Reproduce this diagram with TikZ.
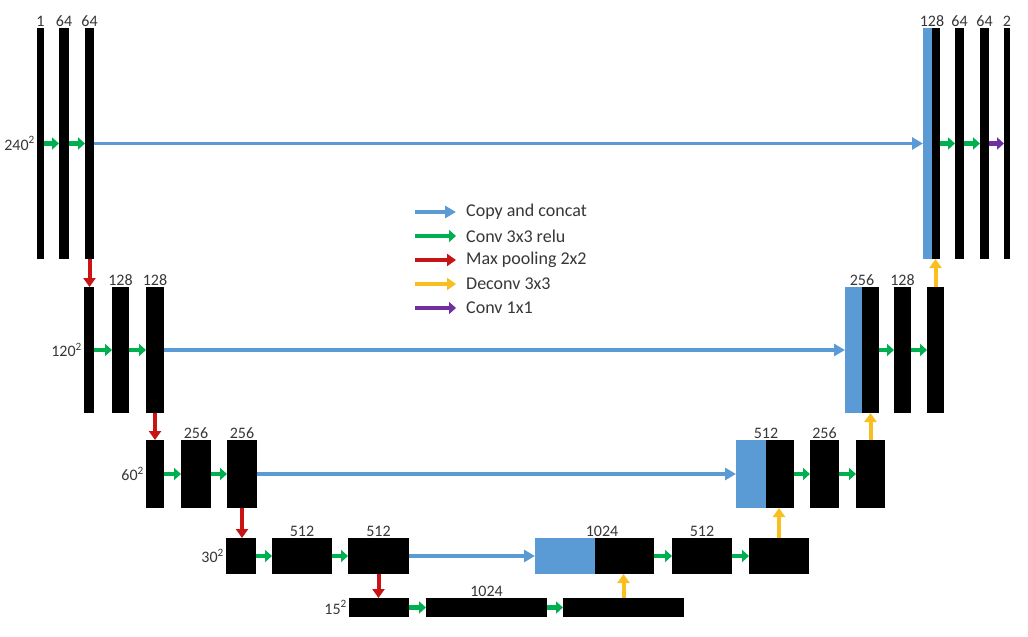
\documentclass[tikz,border=0pt]{standalone}
\usepackage{fontspec}
\setmainfont{Carlito}
\usetikzlibrary{arrows.meta}
\definecolor{cblue}{RGB}{91,155,213}
\definecolor{cgreen}{RGB}{0,176,80}
\definecolor{cred}{RGB}{200,20,20}
\definecolor{cyel}{RGB}{250,190,30}
\definecolor{cpurp}{RGB}{112,48,160}
\definecolor{ctext}{RGB}{55,55,55}
\begin{document}
\begin{tikzpicture}[x=1pt,y=-1pt,
  bar/.style={fill=black,draw=none,inner sep=0,outer sep=0,anchor=north west},
  cat/.style={fill=cblue,draw=none,inner sep=0,outer sep=0,anchor=north west},
  lbl/.style={font=\fontsize{16}{16}\selectfont,text=ctext,anchor=south,inner sep=1.5pt},
  dim/.style={font=\fontsize{16}{16}\selectfont,text=ctext,anchor=east,inner sep=2pt},
  leg/.style={font=\fontsize{18}{18}\selectfont,text=ctext,anchor=west,inner sep=0pt},
  conv/.style={draw=cgreen,line width=4.5pt,-{Triangle[length=7pt,width=12pt]}},
  copyarr/.style={draw=cblue,line width=3.6pt,-{Triangle[length=11pt,width=12pt]}},
  pool/.style={draw=cred,line width=4pt,-{Triangle[length=9pt,width=12pt]}},
  up/.style={draw=cyel,line width=4pt,-{Triangle[length=9pt,width=12pt]}},
  fin/.style={draw=cpurp,line width=4.5pt,-{Triangle[length=7pt,width=12pt]}}]
\useasboundingbox[fill=white] (0,0) rectangle (1028,637);
% Row 1
\node[bar,minimum width=7,minimum height=231] (l1a) at (37,28) {};
\node[bar,minimum width=10,minimum height=231] (l1b) at (59,28) {};
\node[bar,minimum width=9,minimum height=231] (l1c) at (85,28) {};
\node[cat,minimum width=9,minimum height=231] (r1cat) at (923,28) {};
\node[bar,minimum width=8,minimum height=231] (r1a) at (932,28) {};
\node[bar,minimum width=9,minimum height=231] (r1b) at (955,28) {};
\node[bar,minimum width=9,minimum height=231] (r1c) at (980,28) {};
\node[bar,minimum width=6,minimum height=231] (r1d) at (1004,28) {};
% Row 2
\node[bar,minimum width=10,minimum height=126] (l2a) at (84,287) {};
\node[bar,minimum width=17,minimum height=126] (l2b) at (112,287) {};
\node[bar,minimum width=18,minimum height=126] (l2c) at (146,287) {};
\node[cat,minimum width=17,minimum height=126] (r2cat) at (845,287) {};
\node[bar,minimum width=17,minimum height=126] (r2a) at (862,287) {};
\node[bar,minimum width=17,minimum height=126] (r2b) at (894,287) {};
\node[bar,minimum width=17,minimum height=126] (r2c) at (927,287) {};
% Row 3
\node[bar,minimum width=18,minimum height=68] (l3a) at (146,440) {};
\node[bar,minimum width=30,minimum height=68] (l3b) at (181,440) {};
\node[bar,minimum width=30,minimum height=68] (l3c) at (227,440) {};
\node[cat,minimum width=30,minimum height=68] (r3cat) at (736,440) {};
\node[bar,minimum width=28,minimum height=68] (r3a) at (766,440) {};
\node[bar,minimum width=29,minimum height=68] (r3b) at (810,440) {};
\node[bar,minimum width=29,minimum height=68] (r3c) at (856,440) {};
% Row 4
\node[bar,minimum width=30,minimum height=36] (l4a) at (226,538) {};
\node[bar,minimum width=60,minimum height=36] (l4b) at (272,538) {};
\node[bar,minimum width=61,minimum height=36] (l4c) at (348,538) {};
\node[cat,minimum width=60,minimum height=36] (r4cat) at (535,538) {};
\node[bar,minimum width=59,minimum height=36] (r4a) at (595,538) {};
\node[bar,minimum width=60,minimum height=36] (r4b) at (672,538) {};
\node[bar,minimum width=60,minimum height=36] (r4c) at (749,538) {};
% Row 5
\node[bar,minimum width=60,minimum height=19] (b1) at (349,598) {};
\node[bar,minimum width=121,minimum height=19] (b2) at (426,598) {};
\node[bar,minimum width=121,minimum height=19] (b3) at (563,598) {};
% channel labels
\node[lbl] (t1) at (l1a.north) {1};
\node[lbl] (t2) at (l1b.north) {64};
\node[lbl] (t3) at (l1c.north) {64};
\node[lbl] (t4) at (r1cat.north east) {128};
\node[lbl] (t5) at (r1b.north) {64};
\node[lbl] (t6) at (r1c.north) {64};
\node[lbl] (t7) at (r1d.north) {2};
\node[lbl] (t8) at (l2b.north) {128};
\node[lbl] (t9) at (l2c.north) {128};
\node[lbl] (t10) at (r2cat.north east) {256};
\node[lbl] (t11) at (r2b.north) {128};
\node[lbl] (t12) at (l3b.north) {256};
\node[lbl] (t13) at (l3c.north) {256};
\node[lbl] (t14) at (r3cat.north east) {512};
\node[lbl] (t15) at (r3b.north) {256};
\node[lbl] (t16) at (l4b.north) {512};
\node[lbl] (t17) at (l4c.north) {512};
\node[lbl,xshift=7pt] (t18) at (r4cat.north east) {1024};
\node[lbl] (t19) at (r4b.north) {512};
\node[lbl] (t20) at (b2.north) {1024};
% size labels
\node[dim] (s1) at (l1a.west) {240\textsuperscript{2}};
\node[dim] (s2) at (l2a.west) {120\textsuperscript{2}};
\node[dim] (s3) at (l3a.west) {60\textsuperscript{2}};
\node[dim] (s4) at (l4a.west) {30\textsuperscript{2}};
\node[dim] (s5) at (b1.west) {15\textsuperscript{2}};
% copy and concat
\draw[copyarr] (l1c.east) -- (r1cat.west);
\draw[copyarr] (l2c.east) -- (r2cat.west);
\draw[copyarr] (l3c.east) -- (r3cat.west);
\draw[copyarr] (l4c.east) -- (r4cat.west);
% conv 3x3
\draw[conv] (l1a.east) -- (l1b.west);
\draw[conv] (l1b.east) -- (l1c.west);
\draw[conv] (r1a.east) -- (r1b.west);
\draw[conv] (r1b.east) -- (r1c.west);
\draw[conv] (l2a.east) -- (l2b.west);
\draw[conv] (l2b.east) -- (l2c.west);
\draw[conv] (r2a.east) -- (r2b.west);
\draw[conv] (r2b.east) -- (r2c.west);
\draw[conv] (l3a.east) -- (l3b.west);
\draw[conv] (l3b.east) -- (l3c.west);
\draw[conv] (r3a.east) -- (r3b.west);
\draw[conv] (r3b.east) -- (r3c.west);
\draw[conv] (l4a.east) -- (l4b.west);
\draw[conv] (l4b.east) -- (l4c.west);
\draw[conv] (r4a.east) -- (r4b.west);
\draw[conv] (r4b.east) -- (r4c.west);
\draw[conv] (b1.east) -- (b2.west);
\draw[conv] (b2.east) -- (b3.west);
% conv 1x1
\draw[fin] (r1c.east) -- (r1d.west);
% max pooling
\draw[pool] (l1c.south) -- (l1c.south |- l2a.north);
\draw[pool] (l2c.south) -- (l2c.south |- l3a.north);
\draw[pool] (l3c.south) -- (l3c.south |- l4a.north);
\draw[pool] (l4c.south) -- (l4c.south |- b1.north);
% deconv
\draw[up] (b3.north) -- (b3.north |- r4a.south);
\draw[up] (r4c.north) -- (r4c.north |- r3a.south);
\draw[up] (r3c.north) -- (r3c.north |- r2a.south);
\draw[up] (r2c.north) -- (r2c.north |- r1a.south);
% legend
\coordinate (g1) at (415,212);
\coordinate (g2) at (415,236);
\coordinate (g3) at (415,260);
\coordinate (g4) at (415,284);
\coordinate (g5) at (415,308);
\node[leg] (e1) at (466,212) {Copy and concat};
\node[leg] (e2) at (466,236) {Conv 3x3 relu};
\node[leg] (e3) at (466,260) {Max pooling 2x2};
\node[leg] (e4) at (466,284) {Deconv 3x3};
\node[leg] (e5) at (466,308) {Conv 1x1};
\draw[copyarr] (g1) -- ([xshift=-10pt]e1.west);
\draw[conv] (g2) -- ([xshift=-10pt]e2.west);
\draw[pool] (g3) -- ([xshift=-10pt]e3.west);
\draw[up] (g4) -- ([xshift=-10pt]e4.west);
\draw[fin] (g5) -- ([xshift=-10pt]e5.west);
\end{tikzpicture}
\end{document}
